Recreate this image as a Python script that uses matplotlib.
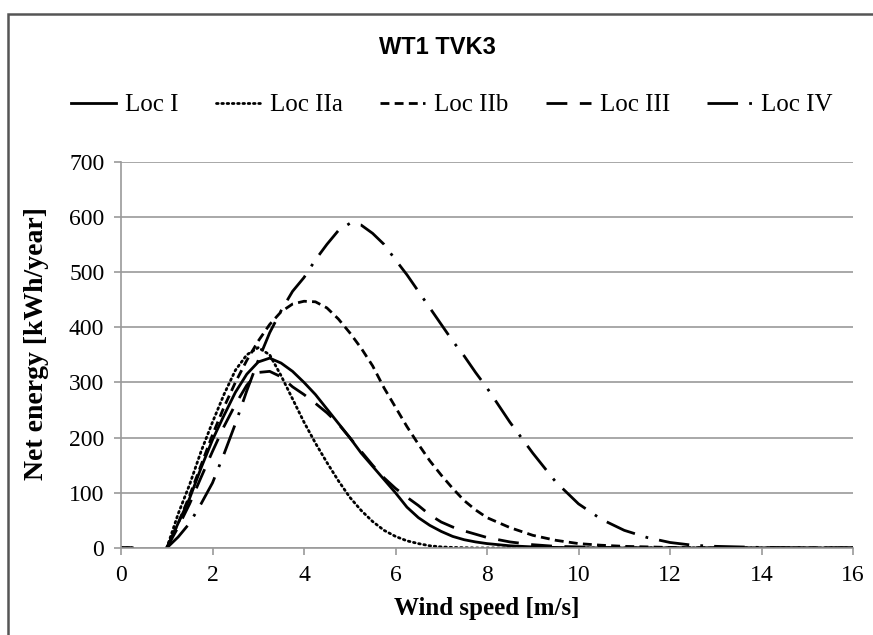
import numpy as np
import matplotlib
matplotlib.use("Agg")
import matplotlib.pyplot as plt
from matplotlib.patches import Rectangle

# ---------------- data ----------------
wind = [0, 0.25, 0.5,
        1.0, 1.25, 1.5, 1.75, 2.0, 2.25, 2.5, 2.75, 3.0, 3.25, 3.5, 3.75,
        4.0, 4.25, 4.5, 4.75, 5.0, 5.25, 5.5, 5.75, 6.0, 6.25, 6.5, 6.75,
        7.0, 7.25, 7.5, 7.75, 8.0, 8.5, 9.0, 9.5, 10.0, 10.5, 11.0, 11.5,
        12.0, 12.5, 13.0, 13.5, 14.0, 14.5, 15.0, 15.5, 16.0]
nan = float("nan")
loc_i = [0, 0, nan,
         0, 45, 90, 145, 196, 240, 282, 315, 337, 344, 335, 320,
         300, 278, 252, 226, 200, 172, 148, 124, 100, 74, 55, 41,
         30, 21, 15, 11, 8, 4, 2, 1, 0.5, 0, 0, 0,
         0, 0, 0, 0, 0, 0, 0, 0, 0]
loc_iia = [0, 0, nan,
           0, 62, 115, 175, 228, 278, 322, 350, 363, 350, 312, 270,
           228, 190, 155, 122, 92, 68, 48, 32, 21, 13, 8, 4,
           2, 1, 0.5, 0, 0, 0, 0, 0, 0, 0, 0, 0,
           0, 0, 0, 0, 0, 0, 0, 0, 0]
loc_iib = [0, 0, nan,
           0, 45, 95, 150, 205, 255, 300, 340, 375, 405, 428, 442,
           447, 446, 435, 415, 390, 362, 330, 290, 255, 220, 188, 158,
           132, 108, 86, 69, 55, 37, 23, 14, 8, 5, 3, 2,
           1, 0.5, 0, 0, 0, 0, 0, 0, 0]
loc_iii = [0, 0, nan,
           0, 38, 80, 128, 175, 220, 260, 295, 318, 320, 310, 292,
           278, 262, 245, 225, 200, 175, 150, 127, 108, 92, 77, 60,
           47, 38, 31, 25, 19, 11, 6, 3, 2, 1, 0.5, 0,
           0, 0, 0, 0, 0, 0, 0, 0, 0]
loc_iv = [0, 0, nan,
          0, 20, 45, 80, 118, 170, 225, 285, 340, 390, 430, 465,
          490, 522, 550, 575, 588, 585, 570, 550, 522, 495, 465, 435,
          405, 375, 348, 318, 290, 228, 172, 120, 80, 52, 32, 19,
          10, 5, 3, 2, 1, 0.5, 0, 0, 0]

series_names = ["Loc I", "Loc IIa", "Loc IIb", "Loc III", "Loc IV"]
x_ticks = [0, 2, 4, 6, 8, 10, 12, 14, 16]
y_ticks = [0, 100, 200, 300, 400, 500, 600, 700]

# ---------------- figure ----------------
W, H = 873, 635
fig = plt.figure(figsize=(W / 100, H / 100), dpi=100)
fig.patch.set_facecolor("white")

# outer chart frame
fig.add_artist(Rectangle((8 / W, -0.05), 1.1, (H - 14) / H + 0.05,
                         transform=fig.transFigure, fill=False,
                         edgecolor="#555555", linewidth=1.8))

ax = fig.add_axes([121 / W, (H - 548) / H, 732 / W, (548 - 161.6) / H])

styles = [
    dict(linestyle="-"),
    dict(linestyle=(0, (0.6, 1.3)), dash_capstyle="round"),
    dict(linestyle=(0, (3.2, 1.9))),
    dict(linestyle=(0, (7.5, 4.5))),
    dict(linestyle=(0, (11, 4, 1, 4))),
]
data = [loc_i, loc_iia, loc_iib, loc_iii, loc_iv]
for name, vals, st in zip(series_names, data, styles):
    ax.plot(wind, vals, color="black", linewidth=2.0, label=name, **st)

ax.set_xlim(0, 16)
ax.set_ylim(0, 700)
ax.set_xticks(x_ticks)
ax.set_yticks(y_ticks)
ax.set_xticklabels([str(t) for t in x_ticks])
ax.set_yticklabels([str(t) for t in y_ticks])
ax.grid(axis="y", color="#9a9a9a", linewidth=1.2)
ax.set_axisbelow(True)
for s in ["top", "right"]:
    ax.spines[s].set_visible(False)
ax.spines["left"].set_color("#9a9a9a")
ax.spines["bottom"].set_color("#9a9a9a")
ax.spines["left"].set_linewidth(1.2)
ax.spines["bottom"].set_linewidth(1.2)
ax.tick_params(axis="both", colors="#9a9a9a", length=5, width=1.2,
               labelcolor="black", labelsize=17)
for lab in ax.get_xticklabels() + ax.get_yticklabels():
    lab.set_family("Liberation Serif")
ax.tick_params(axis="x", pad=7)
ax.tick_params(axis="y", pad=7)

ax.set_xlabel("Wind speed [m/s]", fontsize=18, fontweight="bold",
              family="Liberation Serif", labelpad=8)
ax.set_ylabel("Net energy [kWh/year]", fontsize=20, fontweight="bold",
              family="Liberation Serif", labelpad=4)
ax.yaxis.set_label_coords(-0.098, 0.53)

fig.text(437 / W, 1 - 47 / H, "WT1 TVK3", ha="center", va="center",
         fontsize=17, fontweight="bold", family="Liberation Sans")

fig.legend(loc="center", bbox_to_anchor=(452 / W, 1 - 105 / H), ncol=5,
           frameon=False, prop=dict(family="Liberation Serif", size=18),
           handlelength=1.8, handletextpad=0.35, columnspacing=1.5)

fig.savefig("out.png", dpi=100, facecolor="white")
